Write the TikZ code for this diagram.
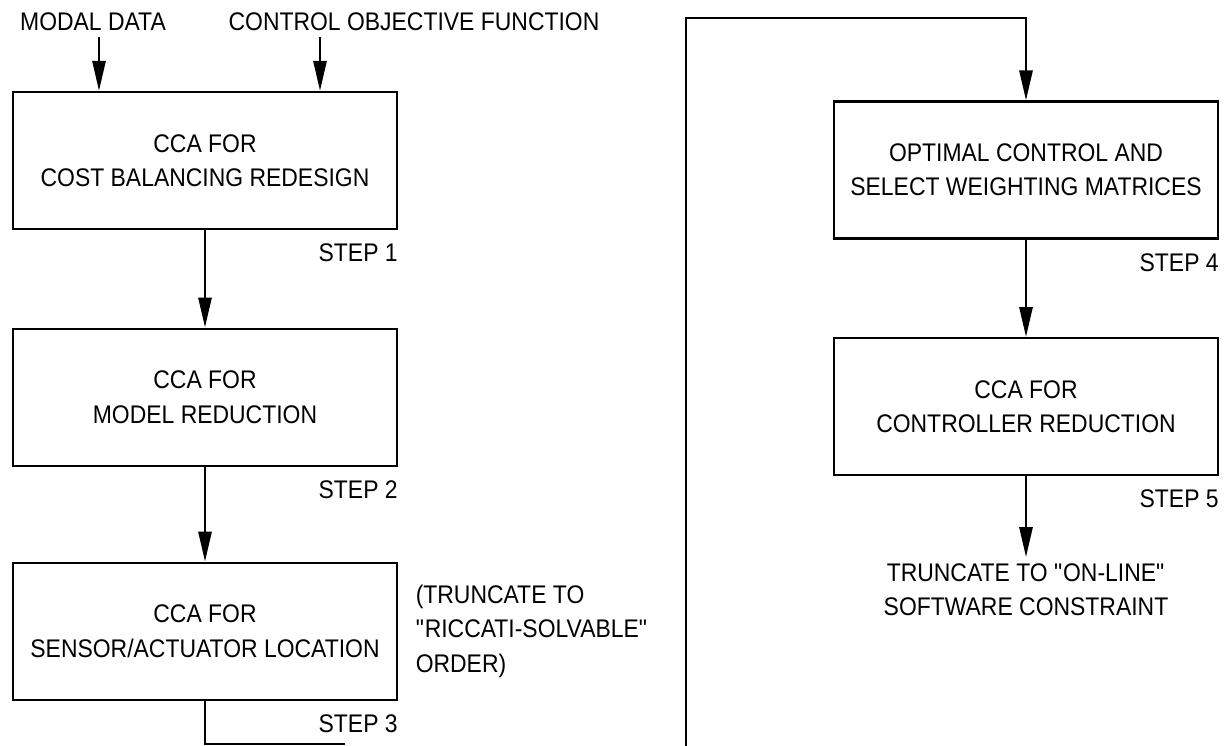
\documentclass[tikz,border=0pt]{standalone}
\usepackage{fontspec}
\setmainfont{Liberation Sans}[FakeStretch=0.9]
\usetikzlibrary{positioning, arrows.meta}

\begin{document}
\begin{tikzpicture}[
        node distance=1.95cm,
        font=\fontsize{14.5pt}{19.5pt}\selectfont,
        % Style for the design step boxes
        stepbox/.style={
            rectangle, draw=black, line width=1.2pt,
            minimum width=7.68cm, minimum height=2.74cm,
            align=center
        },
        % Step number under the lower right corner of a box
        steplabel/.style={anchor=north east, inner sep=0pt},
        % Free text (inputs and remarks)
        remark/.style={align=left},
        line/.style={draw, line width=1.6pt, -{Triangle[length=0.6cm, width=0.26cm]}},
        plain/.style={draw, line width=1.6pt}
    ]
    \useasboundingbox (0,0) rectangle (24.64,14.92);

        % --- Nodes ---

        % 1. Left column
        \node [stepbox] (cost) at (4.1, 11.71) {CCA FOR\\COST BALANCING REDESIGN};
        \node [stepbox, below=of cost] (model) {CCA FOR\\MODEL REDUCTION};
        \node [stepbox, below=1.9cm of model] (sensor) {CCA FOR\\SENSOR/ACTUATOR LOCATION};

        % Inputs on top
        \node (modal) at (1.86, 14.48) {MODAL DATA};
        \node (objective) at (8.28, 14.48) {CONTROL OBJECTIVE FUNCTION};

        % Remark beside step 3
        \node [remark, right=0.23cm of sensor] (riccati) {(TRUNCATE TO\\\textquotedbl RICCATI-SOLVABLE\textquotedbl\\ORDER)};

        % 2. Right column
        \node [stepbox] (optimal) at (20.52, 11.52) {OPTIMAL CONTROL AND\\SELECT WEIGHTING MATRICES};
        \node [stepbox, below=of optimal] (controller) {CCA FOR\\CONTROLLER REDUCTION};
        \node [align=center, below=1.62cm of controller] (online) {TRUNCATE TO \textquotedbl ON-LINE\textquotedbl\\SOFTWARE CONSTRAINT};

        % Step numbers
        \node [steplabel] (step1) at ([yshift=-0.27cm]cost.south east) {STEP 1};
        \node [steplabel] (step2) at ([yshift=-0.27cm]model.south east) {STEP 2};
        \node [steplabel] (step3) at ([yshift=-0.27cm]sensor.south east) {STEP 3};
        \node [steplabel] (step4) at ([yshift=-0.27cm]optimal.south east) {STEP 4};
        \node [steplabel] (step5) at ([yshift=-0.27cm]controller.south east) {STEP 5};

        % Entry points on top of step 1 and the corners of the loop to step 4
        \coordinate (in1) at ([xshift=-2.12cm]cost.north);
        \coordinate (in2) at ([xshift=2.3cm]cost.north);
        \coordinate (loopend) at (6.9, 0.04);
        \coordinate (riser) at (13.72, 0);
        \coordinate (loopturn) at (13.72, 14.56);


        % --- Edges ---

        \path [line] (modal.south -| in1) -- (in1);
        \path [line] (objective.south -| in2) -- (in2);

        \path [line] (cost) -- (model);
        \path [line] (model) -- (sensor);

        % Step 3 leaves at the bottom and comes back up to step 4
        \path [plain] (sensor.south) |- (loopend);
        \path [line] (riser) -- (loopturn) -| (optimal.north);

        \path [line] (optimal) -- (controller);
        \path [line] (controller) -- (online);

    \end{tikzpicture}
\end{document}
